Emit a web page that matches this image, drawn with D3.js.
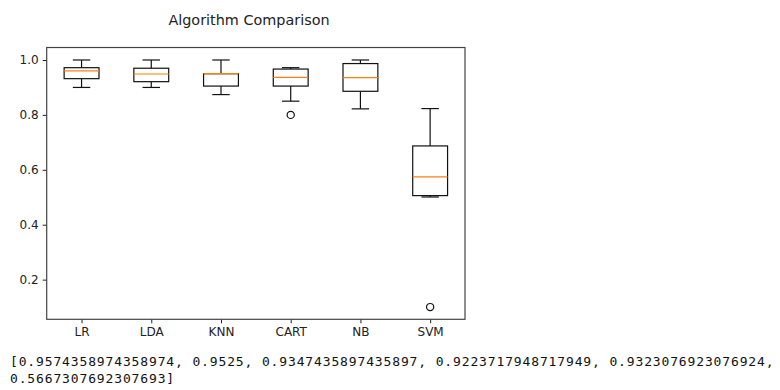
<!DOCTYPE html>
<html>
<head>
<meta charset="utf-8">
<script src="https://cdn.jsdelivr.net/npm/d3@7"></script>
<style>
  html, body { margin: 0; padding: 0; background: #fff; }
  svg { display: block; }
</style>
</head>
<body>
<svg id="chart" width="780" height="390"></svg>
<script>
// ---- data ----
const names      = ["LR", "LDA", "KNN", "CART", "NB", "SVM"];
const whiskerLow = [0.900, 0.900, 0.874, 0.850, 0.822, 0.501];
const q1         = [0.932, 0.921, 0.905, 0.905, 0.886, 0.506];
const medians    = [0.960, 0.949, 0.950, 0.937, 0.936, 0.574];
const q3         = [0.972, 0.970, 0.950, 0.967, 0.987, 0.687];
const whiskerHigh= [1.000, 1.000, 1.000, 0.972, 1.000, 0.823];
const fliers     = [[], [], [], [0.80], [], [0.10]];
const yTicks     = [0.2, 0.4, 0.6, 0.8, 1.0];
const meanScores = ["0.9574358974358974", "0.9525", "0.9347435897435897",
                    "0.9223717948717949", "0.9323076923076924", "0.5667307692307693"];
const title = "Algorithm Comparison";

const boxes = names.map((n, i) => ({
  name: n, lo: whiskerLow[i], q1: q1[i], med: medians[i], q3: q3[i], hi: whiskerHigh[i], fl: fliers[i]
}));

const svg = d3.select("#chart");
const L = 46.7, R = 465, T = 47.5, B = 319.3;

const x = d3.scalePoint().domain(names).range([L, R]).padding(0.5);
const y = d3.scaleLinear().domain([0.0555, 1.0455]).range([B, T]);
const step = x.step();
const bw = step * 0.5, cw = step * 0.25;

// axes
const yAxis = d3.axisLeft(y).tickValues(yTicks).tickFormat(d3.format(".1f")).tickSize(4).tickPadding(4);
const xAxis = d3.axisBottom(x).tickSize(4).tickPadding(4);

const gy = svg.append("g").attr("transform", `translate(${L},0)`).call(yAxis);
const gx = svg.append("g").attr("transform", `translate(0,${B})`).call(xAxis);
[gx, gy].forEach(g => {
  g.select(".domain").remove();
  g.selectAll(".tick line").attr("stroke", "#222").attr("stroke-width", 1);
  g.selectAll(".tick text").attr("fill", "#222")
    .style("font-family", "'DejaVu Sans', sans-serif").style("font-size", "12px");
});

// frame
svg.append("rect").attr("x", L).attr("y", T).attr("width", R - L).attr("height", B - T)
  .attr("fill", "none").attr("stroke", "#444").attr("stroke-width", 1.2);

// boxes
const g = svg.append("g");
const bg = g.selectAll("g.box").data(boxes).join("g").attr("class", "box");
const ls = { stroke: "#111", "stroke-width": 1.2 };
function line(sel, x1, y1, x2, y2, col) {
  sel.append("line").attr("x1", x1).attr("y1", y1).attr("x2", x2).attr("y2", y2)
    .attr("stroke", col || "#111").attr("stroke-width", 1.2);
}
bg.each(function(d) {
  const s = d3.select(this);
  const cx = x(d.name);
  // whiskers
  line(s, cx, y(d.q1), cx, y(d.lo));
  line(s, cx, y(d.q3), cx, y(d.hi));
  line(s, cx - cw / 2, y(d.lo), cx + cw / 2, y(d.lo));
  line(s, cx - cw / 2, y(d.hi), cx + cw / 2, y(d.hi));
  // box
  s.append("rect").attr("x", cx - bw / 2).attr("y", y(d.q3))
    .attr("width", bw).attr("height", Math.max(0, y(d.q1) - y(d.q3)))
    .attr("fill", "none").attr("stroke", "#111").attr("stroke-width", 1.2);
  // median
  line(s, cx - bw / 2, y(d.med), cx + bw / 2, y(d.med), "#ff7f0e");
  // fliers
  d.fl.forEach(v => {
    s.append("circle").attr("cx", cx).attr("cy", y(v)).attr("r", 3.6)
      .attr("fill", "none").attr("stroke", "#111").attr("stroke-width", 1.2);
  });
});

// title
svg.append("text").attr("x", 249).attr("y", 25).attr("text-anchor", "middle")
  .attr("fill", "#222")
  .style("font-family", "'DejaVu Sans', sans-serif").style("font-size", "14.4px")
  .text(title);

// printed output below
const line1 = "[" + meanScores.slice(0, 5).join(", ") + ",";
const line2 = meanScores[5] + "]";
[line1, line2].forEach((t, i) => {
  svg.append("text").attr("x", 10).attr("y", 366 + i * 16.7)
    .attr("fill", "#111")
    .style("font-family", "'DejaVu Sans Mono', monospace").style("font-size", "13px")
    .style("letter-spacing", "0.86px")
    .text(t);
});
</script>
</body>
</html>
